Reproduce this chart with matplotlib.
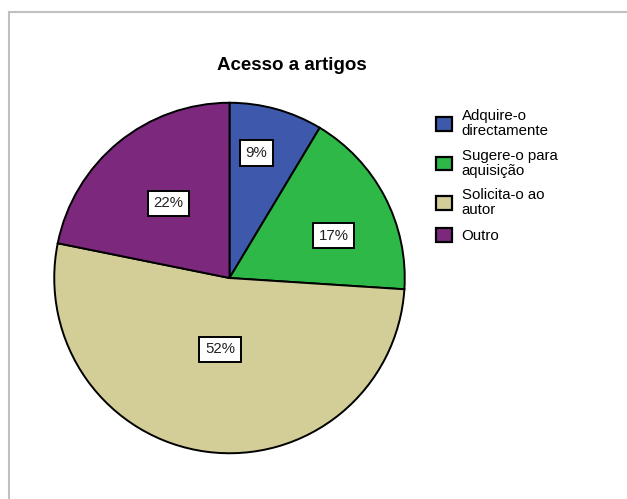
import matplotlib
matplotlib.use("Agg")
import matplotlib.pyplot as plt
from matplotlib.lines import Line2D
import numpy as np

plt.rcParams["font.family"] = ["Liberation Sans", "DejaVu Sans"]

# Data
categories = ["Adquire-o\ndirectamente", "Sugere-o para\naquisição",
              "Solicita-o ao\nautor", "Outro"]
shares = [8.6, 17.4, 52.1, 21.8]
pct_labels = ["9%", "17%", "52%", "22%"]
colors = ["#3E58AC", "#2EB848", "#D3CE97", "#7C287D"]
# placement of each percentage box (fraction of radius, angle nudge in deg)
label_radius = [0.73, 0.64, 0.41, 0.55]
label_shift = [3.5, -5.5, 0.0, 0.0]

W, H = 627, 499
fig = plt.figure(figsize=(W / 100, H / 100), dpi=100)
fig.patch.set_facecolor("white")

# grey frame (top and left edges visible)
fig.add_artist(Line2D([9 / W, 9 / W], [0, 1 - 12 / H],
                      color="#c0c0c0", linewidth=1.5))
fig.add_artist(Line2D([9 / W, 1], [1 - 12 / H, 1 - 12 / H],
                      color="#c0c0c0", linewidth=1.5))

ax = fig.add_axes([52 / W, (H - 455) / H, 355 / W, 354 / H])
wedges, _ = ax.pie(shares, colors=colors, startangle=90, counterclock=False,
                   radius=1.0,
                   wedgeprops=dict(edgecolor="black", linewidth=1.4))
ax.set_xlim(-1.01, 1.01)
ax.set_ylim(-1.01, 1.01)
ax.set_aspect("equal")
ax.axis("off")

for w, lab, rf, dth in zip(wedges, pct_labels, label_radius, label_shift):
    mid = np.deg2rad((w.theta1 + w.theta2) / 2 + dth)
    ax.text(rf * np.cos(mid), rf * np.sin(mid), lab, ha="center",
            va="center", fontsize=10.8, color="#222222",
            bbox=dict(boxstyle="square,pad=0.38", facecolor="white",
                      edgecolor="black", linewidth=1.4))

fig.text(292 / W, 1 - 66 / H, "Acesso a artigos", ha="center",
         va="center", fontsize=13.5, fontweight="bold")

leg = fig.legend(wedges, categories, loc="upper left",
                 bbox_to_anchor=(436 / W, 1 - 109 / H), frameon=False,
                 fontsize=10.8, handlelength=1.05, handleheight=1.05,
                 handletextpad=0.65, labelspacing=0.72,
                 borderpad=0, borderaxespad=0)
for t in leg.get_texts():
    t.set_linespacing(1.08)
for h in leg.legend_handles:
    h.set_edgecolor("black")
    h.set_linewidth(1.6)

fig.savefig("out.png", dpi=100, facecolor="white")
